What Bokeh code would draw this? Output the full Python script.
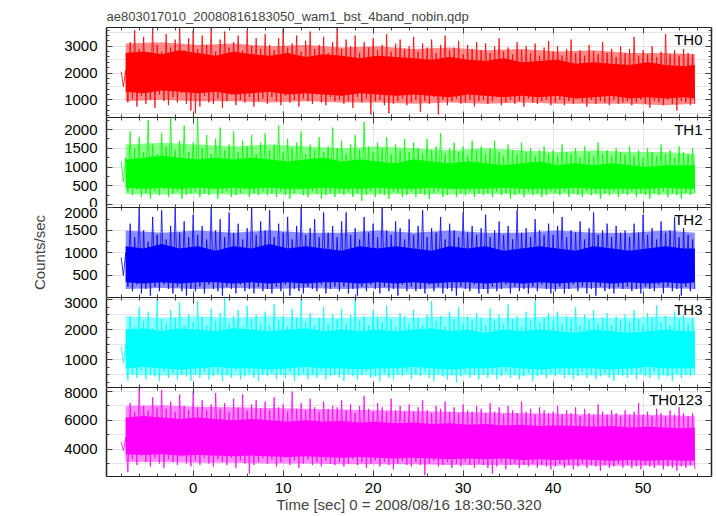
import numpy as np
from bokeh.plotting import figure
from bokeh.layouts import column
from bokeh.models import Range1d, LinearAxis, SingleIntervalTicker, Label, CustomLabelingPolicy
from bokeh.embed import file_html
from bokeh.resources import INLINE

TITLE = "ae803017010_20080816183050_wam1_bst_4band_nobin.qdp"
X_LABEL = "Time [sec] 0 = 2008/08/16 18:30:50.320"
Y_LABEL = "Counts/sec"
PANEL_NAMES = ["TH0", "TH1", "TH2", "TH3", "TH0123"]
COLORS = ["#ff0000", "#00ff00", "#0000ff", "#00ffff", "#ff00ff"]

# peak / trough pairs every 0.5 s (peak at t, trough at t+0.25)
PAIR_T0 = -8.0
PAIR_DT = 0.5
# dense core band sampled every 2 s, lighter outer band every 4 s
BAND_T0 = -7.5
BAND_DT = 2.0
OUTER_DT = 4.0

X_RANGE = (-9.63, 57.6)
Y_RANGES = [(340, 3700), (-80, 2320), (10, 2010), (80, 3070), (2100, 8280)]
Y_MAJOR = [1000, 500, 500, 1000, 2000]
Y_MINOR_N = [5, 2, 2, 4, 2]

TH0_HI = [2050, 2100, 3150, 3600, 2900, 3350, 2750, 3700, 3050, 2800, 3450, 2950, 3250, 3700, 2850, 3300,
          3600, 2900, 3400, 3050, 3700, 2800, 3250, 3550, 2950, 3150, 3400, 2850, 3600, 3000, 3300, 2900,
          3450, 3050, 2850, 3300, 3650, 2950, 3100, 3400, 2800, 3200, 3550, 2900, 3050, 3350, 2750, 3150,
          3700, 2900, 3250, 3000, 3400, 2750, 3150, 2950, 3300, 2850, 3050, 3450, 2800, 3100, 3250, 2900,
          3000, 3350, 2800, 3100, 2950, 3250, 2750, 3050, 3400, 2850, 2950, 3200, 2700, 3050, 2900, 3150,
          2850, 3100, 2750, 3000, 3300, 2800, 2950, 2700, 3150, 2850, 3000, 2750, 3100, 2650, 2950, 3200,
          2800, 3000, 2650, 2900, 3250, 2750, 2850, 2650, 3050, 2800, 2700, 3150, 2750, 2900, 2600, 3000,
          2750, 2900, 3350, 2650, 2850, 2700, 3000, 2600, 2800, 3450, 2700, 2850, 2650, 2900, 2750, 2700]
TH0_LO = [1500, 900, 1050, 750, 1150, 850, 1000, 700, 1200, 950, 800, 1100, 900, 1250, 850, 600,
          500, 750, 1150, 900, 850, 1050, 700, 950, 1200, 800, 1000, 900, 1100, 750, 950, 1050,
          850, 1100, 950, 800, 1150, 900, 1000, 750, 1050, 950, 850, 1200, 900, 800, 1100, 950,
          1000, 850, 950, 700, 1100, 900, 1050, 450, 950, 1000, 800, 500, 850, 950, 1050, 800,
          900, 1000, 550, 950, 850, 1100, 450, 1000, 800, 950, 1050, 850, 900, 1000, 750, 950,
          1000, 850, 950, 1100, 800, 900, 1000, 850, 950, 750, 1050, 900, 850, 950, 1000, 800,
          900, 1000, 800, 950, 850, 1050, 900, 750, 1000, 850, 950, 900, 800, 1000, 850, 900,
          950, 800, 900, 1000, 850, 700, 950, 900, 800, 1000, 850, 600, 950, 900, 800, 850]
TH0_BAND_UP = [2750, 2800, 2700, 2850, 2750, 2650, 2800, 2700, 2650, 2750, 2600, 2700, 2650, 2550, 2650, 2600,
               2550, 2500, 2600, 2500, 2450, 2550, 2400, 2450, 2500, 2350, 2400, 2350, 2300, 2400, 2300, 2250, 2300]
TH0_BAND_LO = [1300, 1250, 1350, 1300, 1250, 1300, 1200, 1250, 1300, 1200, 1250, 1200, 1150, 1250, 1200, 1150,
               1200, 1150, 1100, 1200, 1150, 1100, 1150, 1100, 1150, 1050, 1100, 1150, 1050, 1100, 1050, 1100, 1050]
TH0_OUT_UP = [3100, 3150, 3050, 3100, 3000, 3050, 2950, 3000, 2900, 2950, 2850, 2900, 2800, 2850, 2750, 2750, 2700]
TH0_OUT_LO = [950, 1000, 950, 950, 900, 950, 900, 900, 850, 900, 850, 900, 850, 850, 850, 800, 850]

TH1_HI = [1150, 1250, 1950, 1500, 1800, 1400, 2250, 1600, 1350, 1900, 1550, 2300, 1450, 1700, 2100, 1400,
          1650, 2300, 1500, 1850, 1350, 1750, 2050, 1450, 1600, 1950, 1400, 1700, 1550, 1850, 1350, 1650,
          1900, 1450, 1600, 2100, 1400, 1750, 1500, 1650, 1950, 1350, 1600, 1450, 1800, 1400, 1550, 2050,
          1500, 1700, 1350, 1600, 1850, 1450, 2200, 1550, 1400, 1650, 1500, 1800, 1350, 1600, 1450, 1750,
          1400, 1650, 1500, 1350, 1750, 1450, 1550, 1900, 1350, 1500, 1650, 1400, 1550, 1300, 1700, 1450,
          1550, 1350, 1500, 1700, 1400, 1300, 1600, 1450, 1350, 1650, 1400, 1500, 1300, 1450, 1550, 1350,
          1450, 1300, 1600, 1400, 1350, 1500, 1250, 1550, 1400, 1300, 1650, 1350, 1450, 1300, 1500, 1400,
          1350, 1550, 1300, 1450, 1250, 1500, 1400, 1300, 1600, 1350, 1450, 1250, 1550, 1400, 1350, 1500]
TH1_LO = [600, 350, 250, 400, 200, 300, 150, 350, 250, 400, 200, 300, 350, 150, 250, 300,
          350, 200, 300, 250, 400, 150, 300, 350, 200, 250, 300, 400, 200, 300, 250, 350,
          250, 300, 200, 350, 250, 150, 300, 400, 250, 200, 350, 300, 150, 250, 300, 200,
          300, 250, 350, 200, 300, 100, 250, 350, 200, 300, 250, 150, 350, 300, 200, 250,
          350, 200, 300, 250, 150, 300, 350, 200, 250, 400, 200, 300, 250, 350, 200, 300,
          250, 300, 200, 350, 250, 300, 150, 250, 300, 200, 350, 250, 300, 200, 250, 350,
          300, 250, 350, 200, 300, 250, 200, 350, 250, 300, 150, 300, 250, 350, 200, 300,
          250, 350, 200, 300, 250, 150, 300, 250, 350, 200, 300, 250, 150, 300, 250, 300]
TH1_BAND_UP = [1200, 1250, 1300, 1250, 1200, 1250, 1200, 1250, 1200, 1150, 1200, 1250, 1150, 1200, 1150, 1100,
               1200, 1150, 1100, 1150, 1100, 1050, 1100, 1150, 1050, 1100, 1050, 1100, 1050, 1000, 1050, 1050, 1050]
TH1_BAND_LO = [450, 420, 450, 420, 450, 420, 450, 420, 450, 420, 420, 450, 420, 420, 450, 420,
               420, 450, 420, 420, 420, 450, 420, 420, 420, 450, 420, 420, 420, 420, 450, 420, 420]
TH1_OUT_UP = [1600, 1650, 1600, 1550, 1600, 1550, 1500, 1550, 1500, 1450, 1500, 1450, 1400, 1450, 1400, 1400, 1350]
TH1_OUT_LO = [280, 270, 280, 270, 280, 270, 280, 270, 280, 270, 280, 270, 280, 270, 280, 270, 280]

TH2_HI = [900, 1000, 1650, 1350, 2000, 1500, 1250, 1800, 1400, 1950, 1300, 1600, 2000, 1450, 1700, 1350,
          1850, 1400, 1600, 1300, 2000, 1500, 1750, 1350, 1900, 1450, 1650, 1300, 1550, 2000, 1400, 1700,
          1500, 1950, 1350, 1650, 1450, 1800, 1300, 1600, 2000, 1400, 1550, 1750, 1350, 1900, 1450, 1600,
          1350, 1700, 1900, 1400, 1550, 1300, 1800, 1450, 1650, 1350, 2000, 1500, 1400, 1700, 1550, 1300,
          1750, 1400, 1600, 1950, 1350, 1550, 1450, 1800, 1300, 1650, 1500, 1350, 1900, 1450, 1600, 1400,
          1550, 1850, 1350, 1500, 1700, 1400, 1600, 1300, 1950, 1450, 1550, 1350, 1750, 1500, 1400, 1650,
          1400, 1600, 1800, 1350, 1500, 1450, 1700, 1300, 1550, 1900, 1400, 1500, 1650, 1350, 1600, 1450,
          1500, 1350, 1650, 1450, 1850, 1400, 1550, 1300, 1700, 1450, 1500, 1800, 1350, 1550, 1400, 1300]
TH2_LO = [500, 250, 150, 300, 100, 200, 50, 250, 150, 300, 200, 100, 250, 150, 50, 200,
          150, 250, 100, 300, 200, 150, 50, 250, 200, 100, 300, 150, 200, 100, 250, 150,
          200, 100, 250, 150, 300, 50, 200, 150, 100, 250, 200, 150, 300, 100, 200, 250,
          150, 250, 100, 200, 50, 250, 150, 300, 200, 100, 250, 150, 200, 50, 300, 150,
          250, 150, 200, 100, 300, 150, 250, 100, 200, 150, 50, 250, 200, 150, 300, 100,
          200, 100, 250, 150, 200, 300, 100, 250, 150, 200, 100, 250, 150, 300, 200, 100,
          150, 250, 100, 200, 300, 150, 250, 100, 200, 50, 250, 150, 200, 100, 250, 200,
          250, 150, 200, 100, 250, 200, 150, 300, 100, 250, 150, 200, 50, 250, 150, 200]
TH2_BAND_UP = [1150, 1100, 1200, 1100, 1150, 1050, 1150, 1100, 1200, 1100, 1150, 1100, 1050, 1150, 1100, 1150,
               1100, 1050, 1150, 1100, 1150, 1050, 1100, 1150, 1100, 1050, 1150, 1100, 1050, 1100, 1150, 1100, 1100]
TH2_BAND_LO = [350, 320, 350, 320, 350, 350, 320, 350, 320, 350, 320, 350, 350, 320, 350, 320,
               350, 320, 350, 350, 320, 350, 320, 350, 320, 350, 350, 320, 350, 320, 350, 320, 350]
TH2_OUT_UP = [1500, 1450, 1500, 1450, 1500, 1450, 1450, 1500, 1450, 1500, 1450, 1450, 1500, 1450, 1450, 1500, 1450]
TH2_OUT_LO = [200, 220, 200, 220, 200, 220, 200, 220, 200, 220, 200, 220, 200, 220, 200, 220, 200]

TH3_HI = [1450, 1500, 2450, 2100, 2750, 2300, 2600, 2050, 3000, 2350, 2200, 2650, 2400, 2900, 2150, 2500,
          2250, 2950, 2400, 2150, 2700, 2300, 2550, 3050, 2200, 2450, 2650, 2100, 2800, 2350, 2500, 2200,
          2600, 2150, 2850, 2300, 2450, 2100, 2700, 2400, 3000, 2250, 2550, 2150, 2400, 2750, 2200, 2500,
          2350, 2700, 2200, 2500, 3050, 2300, 2450, 2150, 2650, 2400, 2250, 2800, 2350, 2100, 2550, 2450,
          2200, 2650, 2400, 2150, 2500, 2950, 2300, 2450, 2100, 2600, 2350, 2750, 2200, 2450, 2300, 2550,
          2400, 2150, 2700, 2300, 2500, 2200, 2850, 2350, 2450, 2100, 2600, 2300, 2950, 2250, 2400, 2550,
          2300, 2600, 2200, 2450, 2350, 2750, 2150, 2500, 2300, 2650, 2200, 2400, 2550, 2150, 2450, 2300,
          2500, 2250, 2650, 2350, 2200, 2550, 2400, 2800, 2250, 2450, 2150, 2600, 2350, 2500, 2200, 2400]
TH3_LO = [900, 300, 550, 400, 650, 350, 500, 450, 300, 600, 400, 550, 350, 500, 450, 300,
          500, 400, 600, 350, 450, 550, 300, 500, 400, 650, 350, 450, 550, 400, 300, 500,
          450, 550, 350, 500, 400, 600, 300, 450, 550, 350, 500, 400, 600, 350, 450, 500,
          400, 300, 550, 450, 350, 500, 600, 400, 450, 300, 550, 400, 350, 500, 450, 600,
          350, 500, 450, 600, 400, 300, 550, 450, 350, 500, 250, 450, 550, 400, 500, 350,
          500, 400, 550, 350, 450, 600, 400, 500, 350, 450, 550, 300, 450, 500, 400, 550,
          450, 550, 400, 500, 350, 450, 600, 400, 500, 350, 450, 550, 400, 300, 500, 450,
          400, 500, 350, 550, 450, 400, 600, 350, 500, 450, 300, 550, 400, 500, 450, 500]
TH3_BAND_UP = [2000, 2050, 1950, 2050, 2000, 1950, 2050, 2000, 1950, 2000, 2050, 1950, 2000, 1950, 2000, 1950,
               2000, 2050, 1950, 2000, 1900, 2000, 1950, 2000, 1950, 1900, 2000, 1950, 1900, 1950, 2000, 1950, 1950]
TH3_BAND_LO = [720, 760, 720, 680, 720, 760, 720, 720, 680, 720, 760, 720, 720, 680, 720, 720,
               760, 720, 680, 720, 720, 760, 720, 680, 720, 720, 720, 680, 720, 760, 720, 720, 720]
TH3_OUT_UP = [2450, 2400, 2450, 2400, 2450, 2400, 2400, 2450, 2400, 2450, 2400, 2400, 2450, 2400, 2400, 2450, 2400]
TH3_OUT_LO = [500, 480, 500, 480, 500, 480, 500, 480, 500, 480, 500, 480, 500, 480, 500, 480, 500]

TH0123_HI = [4500, 4800, 7200, 6600, 8200, 7000, 6700, 7600, 6900, 8100, 6800, 7300, 6600, 7800, 7000, 6700,
             8000, 6900, 7400, 6700, 7100, 7900, 6800, 7200, 6600, 7500, 6900, 7800, 6700, 7100, 7400, 6800,
             7300, 6700, 7600, 6900, 7100, 6600, 8000, 6800, 7200, 6700, 7500, 6900, 6600, 7300, 6800, 7000,
             6900, 7400, 6700, 7100, 6500, 7000, 7700, 6800, 6600, 7200, 6900, 6600, 7500, 6700, 7000, 6600,
             7100, 6600, 6900, 7400, 6700, 6500, 7000, 6800, 7300, 6600, 6900, 6500, 7100, 6700, 6600, 7000,
             6800, 6500, 7200, 6600, 6900, 6400, 7000, 6700, 6500, 7300, 6600, 6800, 6400, 6900, 6700, 6500,
             6600, 7000, 6400, 6700, 6500, 6900, 6300, 6800, 6500, 6400, 7100, 6600, 6400, 6700, 6500, 6300,
             6700, 6400, 6600, 7200, 6400, 6600, 6300, 6800, 6500, 6300, 6700, 6400, 6900, 6500, 6300, 6500]
TH0123_LO = [3900, 2400, 3300, 2900, 3500, 3100, 2800, 3400, 3000, 2700, 3300, 3100, 2900, 3500, 3000, 2800,
             3200, 2900, 3400, 3000, 2800, 3300, 3100, 2900, 3400, 2700, 3200, 3000, 2300, 2900, 3100, 3400,
             3000, 3300, 2800, 3100, 3400, 2900, 3200, 2700, 3000, 3300, 2900, 3100, 2800, 3200, 3000, 2900,
             3100, 2800, 3000, 3300, 2900, 3100, 2700, 3000, 3200, 2800, 3100, 2900, 2600, 3000, 3200, 2900,
             2800, 3100, 2900, 2200, 3000, 3200, 2800, 2900, 3100, 2700, 3000, 2800, 3100, 2900, 2700, 3000,
             2900, 2700, 2300, 2800, 3100, 2600, 2900, 3000, 2700, 2900, 2800, 3000, 2700, 2900, 2800, 2600,
             2800, 3000, 2700, 2900, 2600, 2800, 3000, 2700, 2900, 2800, 2500, 2900, 2700, 2800, 3000, 2700,
             2900, 2700, 2800, 2600, 2900, 2800, 2700, 2900, 2600, 2800, 2700, 2500, 2800, 2700, 2900, 2600]
TH0123_BAND_UP = [6200, 6300, 6200, 6100, 6200, 6100, 6000, 6100, 6000, 5900, 6000, 5900, 5950, 5850, 5900, 5800,
                  5850, 5750, 5800, 5700, 5750, 5650, 5700, 5600, 5650, 5600, 5550, 5600, 5500, 5550, 5500, 5450, 5500]
TH0123_BAND_LO = [3650, 3600, 3650, 3550, 3600, 3550, 3500, 3550, 3500, 3450, 3500, 3450, 3400, 3450, 3400, 3350,
                  3400, 3350, 3300, 3350, 3300, 3350, 3250, 3300, 3250, 3300, 3250, 3200, 3250, 3200, 3250, 3200, 3200]
TH0123_OUT_UP = [7000, 7050, 6950, 6900, 6850, 6800, 6750, 6700, 6650, 6600, 6550, 6500, 6450, 6400, 6400, 6350, 6300]
TH0123_OUT_LO = [3100, 3100, 3050, 3050, 3000, 3000, 2950, 2950, 2950, 2900, 2900, 2900, 2850, 2850, 2850, 2850, 2850]

SERIES = [
    (TH0_HI, TH0_LO, TH0_BAND_UP, TH0_BAND_LO, TH0_OUT_UP, TH0_OUT_LO),
    (TH1_HI, TH1_LO, TH1_BAND_UP, TH1_BAND_LO, TH1_OUT_UP, TH1_OUT_LO),
    (TH2_HI, TH2_LO, TH2_BAND_UP, TH2_BAND_LO, TH2_OUT_UP, TH2_OUT_LO),
    (TH3_HI, TH3_LO, TH3_BAND_UP, TH3_BAND_LO, TH3_OUT_UP, TH3_OUT_LO),
    (TH0123_HI, TH0123_LO, TH0123_BAND_UP, TH0123_BAND_LO, TH0123_OUT_UP, TH0123_OUT_LO),
]

FONT = "Liberation Sans"
FRAME_W = 605
FRAME_HS = [90, 90, 90, 90, 89]
LEFT, RIGHT = 106, 5
TOP, BOTTOM = 27, 39
AX_COL = "#222222"
TICK_COL = "#444444"


def make_axis(ticker, show_labels, line_width):
    ax = LinearAxis(ticker=ticker)
    ax.axis_line_color = AX_COL
    ax.axis_line_width = line_width
    ax.major_tick_in = 6
    ax.major_tick_out = 0
    ax.minor_tick_in = 3
    ax.minor_tick_out = 0
    ax.major_tick_line_color = TICK_COL
    ax.minor_tick_line_color = TICK_COL
    ax.major_label_text_font = FONT
    ax.major_label_text_color = "black"
    if show_labels:
        ax.major_label_text_font_size = "15px"
    else:
        ax.major_label_text_font_size = "0px"
        ax.major_label_standoff = 0
        ax.major_label_policy = CustomLabelingPolicy(code="return new Set()")
    return ax


xr = Range1d(*X_RANGE)
figs = []
n = len(SERIES)
for i, (hi, lo, bup, blo, oup, olo) in enumerate(SERIES):
    first = i == 0
    last = i == n - 1
    p = figure(frame_width=FRAME_W, frame_height=FRAME_HS[i], x_range=xr,
               y_range=Range1d(*Y_RANGES[i]),
               output_backend="svg", toolbar_location=None,
               x_axis_location=None, y_axis_location=None,
               title=TITLE if first else None,
               min_border_left=LEFT, min_border_right=RIGHT,
               min_border_top=TOP if first else 0,
               min_border_bottom=BOTTOM if last else 0,
               background_fill_color="white", border_fill_color="white",
               outline_line_color=None)
    if first:
        p.title.text_font = FONT
        p.title.text_font_size = "13px"
        p.title.text_font_style = "normal"
        p.title.standoff = 8
        p.title.align = "left"

    yl = make_axis(SingleIntervalTicker(interval=Y_MAJOR[i], num_minor_ticks=Y_MINOR_N[i]), True, 1.5)
    yl.major_label_standoff = 9
    if i == 2:
        yl.axis_label = Y_LABEL
        yl.axis_label_text_font = FONT
        yl.axis_label_text_font_size = "15px"
        yl.axis_label_text_font_style = "normal"
        yl.axis_label_standoff = 13
    p.add_layout(yl, "left")
    yr = make_axis(SingleIntervalTicker(interval=Y_MAJOR[i], num_minor_ticks=Y_MINOR_N[i]), False, 1.5)
    p.add_layout(yr, "right")
    xa = make_axis(SingleIntervalTicker(interval=10, num_minor_ticks=5), False, 1)
    p.add_layout(xa, "above")
    xb = make_axis(SingleIntervalTicker(interval=10, num_minor_ticks=5), last, 1)
    if last:
        xb.major_label_standoff = 6
        xb.axis_label = X_LABEL
        xb.axis_label_text_font = FONT
        xb.axis_label_text_font_size = "15px"
        xb.axis_label_text_font_style = "normal"
        xb.axis_label_standoff = 0
    p.add_layout(xb, "below")

    # data
    hi_a = np.asarray(hi, dtype=float)
    lo_a = np.asarray(lo, dtype=float)
    t_hi = PAIR_T0 + PAIR_DT * np.arange(len(hi_a))
    t = np.column_stack([t_hi, t_hi + PAIR_DT / 2]).ravel()
    y = np.column_stack([hi_a, lo_a]).ravel()
    t_end = t[-1]
    band_t = np.minimum(BAND_T0 + BAND_DT * np.arange(len(bup)), t_end)
    out_t = np.minimum(BAND_T0 + OUTER_DT * np.arange(len(oup)), t_end)
    p.varea(x=out_t, y1=olo, y2=oup, fill_color=COLORS[i], fill_alpha=0.45)
    p.varea(x=band_t, y1=blo, y2=bup, fill_color=COLORS[i], fill_alpha=1.0)
    p.line(t, y, line_color=COLORS[i], line_width=1.0, line_alpha=0.8)

    p.add_layout(Label(x=X_RANGE[1], y=Y_RANGES[i][1], x_offset=-9, y_offset=-3,
                       text=PANEL_NAMES[i], text_align="right", text_baseline="top",
                       text_font=FONT, text_font_size="15px", text_color="black"))
    figs.append(p)

layout = column(*figs, spacing=0)
open("out.html", "w").write(file_html(layout, INLINE))
